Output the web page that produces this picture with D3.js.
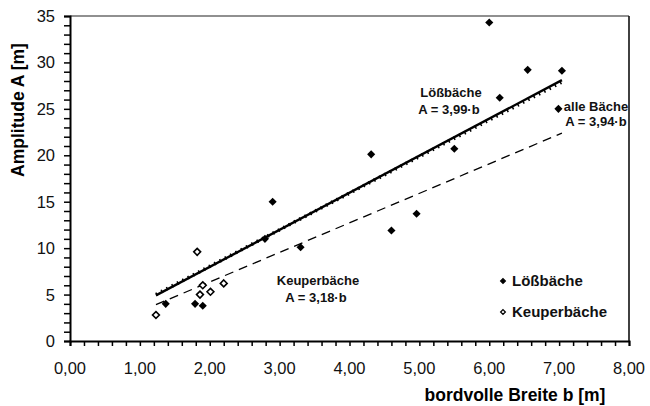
<!DOCTYPE html>
<html>
<head>
<meta charset="utf-8">
<script src="https://cdn.jsdelivr.net/npm/d3@7"></script>
<style>
  body { margin: 0; background: #fff; }
  svg { font-family: "Liberation Sans", Arial, sans-serif; }
</style>
</head>
<body>
<svg id="chart" width="650" height="406"></svg>
<script>
// ── data ────────────────────────────────────────────────────
const loessB = [1.37, 1.79, 1.90, 2.79, 2.90, 3.30, 4.31, 4.60, 4.96, 5.50, 6.00, 6.15, 6.55, 6.99, 7.04];
const loessA = [4.0, 4.0, 3.8, 11.0, 15.0, 10.1, 20.1, 11.9, 13.7, 20.7, 34.3, 26.2, 29.2, 25.0, 29.1];

const keuperB = [1.23, 1.82, 1.86, 1.90, 2.01, 2.20];
const keuperA = [2.8, 9.6, 5.0, 6.0, 5.3, 6.2];

// regression slopes (A = k·b)
const fits = [
  { name: 'alle Bäche',  k: 3.94, style: 'dotted' },
  { name: 'Lößbäche',    k: 3.99, style: 'solid' },
  { name: 'Keuperbäche', k: 3.18, style: 'dashed' }
];

const xTicks = [0, 1, 2, 3, 4, 5, 6, 7, 8];
const yTicks = [0, 5, 10, 15, 20, 25, 30, 35];

// ── scales ─────────────────────────────────────────────────
const svg = d3.select('#chart');
const x = d3.scaleLinear().domain([0, 8]).range([70, 629]);
const y = d3.scaleLinear().domain([0, 35]).range([341, 16]);

const fmtX = d => d3.format('.2f')(d).replace('.', ',');

// frame (top / right)
svg.append('line').attr('x1', x(0)).attr('x2', x(8)).attr('y1', y(35)).attr('y2', y(35))
  .attr('stroke', '#222').attr('stroke-width', 1.2);
svg.append('line').attr('x1', x(8)).attr('x2', x(8)).attr('y1', y(35)).attr('y2', y(0))
  .attr('stroke', '#111').attr('stroke-width', 1.6);

// x axis
const xAxis = svg.append('g').attr('transform', `translate(0,${y(0)})`)
  .call(d3.axisBottom(x).tickValues(d3.range(0, 8.01, 0.2)).tickSize(5).tickFormat(''));
xAxis.select('.domain').attr('stroke-width', 2);
xAxis.selectAll('.tick line').attr('stroke-width', 1.5);
svg.append('g').selectAll('text').data(xTicks).join('text')
  .attr('x', d => x(d)).attr('y', 374)
  .attr('text-anchor', 'middle').attr('font-size', 16.5).attr('fill', '#111')
  .text(fmtX);

// y axis
const yAxis = svg.append('g').attr('transform', `translate(${x(0)},0)`)
  .call(d3.axisLeft(y).tickValues(d3.range(0, 36, 1)).tickSize(6).tickFormat(''));
yAxis.select('.domain').attr('stroke-width', 2);
yAxis.selectAll('.tick line').attr('stroke-width', 1.5);
svg.append('g').selectAll('text').data(yTicks).join('text')
  .attr('x', 55).attr('y', d => y(d)).attr('dy', '0.36em')
  .attr('text-anchor', 'end').attr('font-size', 16.5).attr('fill', '#111')
  .text(d => d);

// axis titles
svg.append('text').attr('x', 515).attr('y', 401)
  .attr('text-anchor', 'middle').attr('font-size', 17.5).attr('font-weight', 'bold')
  .text('bordvolle Breite b [m]');
svg.append('text').attr('transform', 'translate(24,110) rotate(-90)')
  .attr('text-anchor', 'middle').attr('font-size', 17.5).attr('font-weight', 'bold')
  .text('Amplitude A [m]');

// ── regression lines ───────────────────────────────────────
const bExt = d3.extent(loessB.concat(keuperB));
fits.forEach(f => {
  const line = svg.append('line')
    .attr('x1', x(bExt[0])).attr('y1', y(f.k * bExt[0]))
    .attr('x2', x(bExt[1])).attr('y2', y(f.k * bExt[1]))
    .attr('stroke', '#000');
  if (f.style === 'solid') line.attr('stroke-width', 2.4);
  if (f.style === 'dashed') line.attr('stroke-width', 1.3).attr('stroke-dasharray', '9,6');
  if (f.style === 'dotted') line.attr('stroke-width', 3.6).attr('stroke-dasharray', '1.5,4.5')
    .attr('transform', 'translate(0,-1.5)');
});

// ── points ─────────────────────────────────────────────────
const diamond = d3.symbol().type(d3.symbolDiamond2);
svg.append('g').selectAll('path').data(keuperB).join('path')
  .attr('transform', (d, i) => `translate(${x(d)},${y(keuperA[i])})`)
  .attr('d', diamond.size(30)())
  .attr('fill', '#fff').attr('stroke', '#000').attr('stroke-width', 1.6);
svg.append('g').selectAll('path').data(loessB).join('path')
  .attr('transform', (d, i) => `translate(${x(d)},${y(loessA[i])})`)
  .attr('d', diamond.size(42)())
  .attr('fill', '#000');

// ── annotations ────────────────────────────────────────────
const notes = [
  { t: 'Lößbäche',    x: 451, y: 97,  a: 'middle' },
  { t: 'A = 3,99·b',  x: 449, y: 114, a: 'middle' },
  { t: 'alle Bäche',  x: 596, y: 111, a: 'middle' },
  { t: 'A = 3,94·b',  x: 596, y: 126, a: 'middle' },
  { t: 'Keuperbäche', x: 318, y: 285, a: 'middle' },
  { t: 'A = 3,18·b',  x: 316, y: 302, a: 'middle' }
];
svg.append('g').selectAll('text').data(notes).join('text')
  .attr('x', d => d.x).attr('y', d => d.y).attr('text-anchor', d => d.a)
  .attr('font-size', 13).attr('font-weight', 'bold').attr('fill', '#111')
  .text(d => d.t);

// ── legend ─────────────────────────────────────────────────
const legend = [
  { t: 'Lößbäche', filled: true },
  { t: 'Keuperbäche', filled: false }
];
const lg = svg.append('g').selectAll('g').data(legend).join('g')
  .attr('transform', (d, i) => `translate(503,${281 + i * 31})`);
lg.append('path').attr('d', diamond.size(14)())
  .attr('fill', d => d.filled ? '#000' : '#fff')
  .attr('stroke', '#000').attr('stroke-width', 1.3);
lg.append('text').attr('x', 9).attr('dy', '0.36em')
  .attr('font-size', 15).attr('font-weight', 'bold').attr('fill', '#111')
  .text(d => d.t);
</script>
</body>
</html>
